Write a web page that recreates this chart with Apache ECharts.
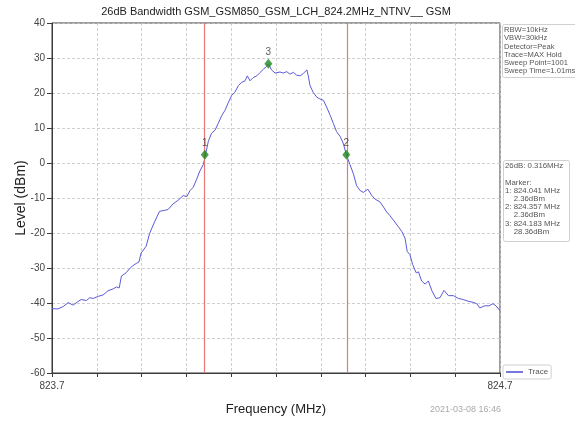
<!DOCTYPE html>
<html>
<head>
<meta charset="utf-8">
<script src="https://cdn.jsdelivr.net/npm/echarts@6/dist/echarts.min.js"></script>
<style>
  html, body { margin: 0; padding: 0; background: #fff; }
  #chart { width: 575px; height: 421px; }
</style>
</head>
<body>
<div id="chart"></div>
<script>
// Spectrum trace: frequency (MHz) and level (dBm)
const traceFreqs = [
  823.700, 823.713, 823.725, 823.736, 823.747, 823.758, 823.765, 823.777, 823.784, 823.792,
  823.803, 823.814, 823.825, 823.836, 823.844, 823.850, 823.855, 823.866, 823.873, 823.881,
  823.888, 823.894, 823.899, 823.910, 823.918, 823.929, 823.940, 823.952, 823.959, 823.970,
  823.981, 823.993, 824.001, 824.008, 824.015, 824.023, 824.030, 824.038, 824.042, 824.049,
  824.056, 824.064, 824.071, 824.079, 824.086, 824.094, 824.101, 824.108, 824.116, 824.123,
  824.131, 824.136, 824.142, 824.149, 824.157, 824.164, 824.172, 824.179, 824.183, 824.190,
  824.198, 824.209, 824.216, 824.224, 824.231, 824.239, 824.246, 824.254, 824.261, 824.269,
  824.272, 824.276, 824.283, 824.291, 824.298, 824.306, 824.313, 824.321, 824.328, 824.335,
  824.343, 824.350, 824.357, 824.365, 824.373, 824.380, 824.388, 824.395, 824.405, 824.414,
  824.421, 824.432, 824.440, 824.447, 824.454, 824.462, 824.466, 824.473, 824.481, 824.488,
  824.493, 824.499, 824.505, 824.513, 824.518, 824.525, 824.533, 824.540, 824.548, 824.557,
  824.566, 824.575, 824.585, 824.596, 824.607, 824.618, 824.629, 824.640, 824.648, 824.655,
  824.666, 824.676, 824.684, 824.691, 824.700
];
const traceLevels = [
  -41.6, -41.7, -41.0, -39.9, -40.6, -39.6, -39.0, -39.3, -38.5, -38.7,
  -38.1, -37.7, -36.5, -36.0, -35.4, -35.7, -32.3, -31.3, -30.2, -29.3,
  -28.7, -28.3, -25.7, -23.8, -20.1, -16.8, -13.8, -13.5, -13.3, -11.7,
  -10.7, -9.3, -9.6, -7.9, -7.0, -4.6, -2.3, -0.4, 2.0, 6.2,
  8.5, 9.4, 11.3, 13.6, 15.0, 17.4, 19.3, 20.2, 22.1, 23.0,
  23.5, 24.9, 23.5, 24.4, 24.9, 25.8, 26.8, 27.6, 28.36, 26.6,
  25.7, 26.0, 25.7, 26.1, 25.4, 25.9, 25.1, 24.9, 25.6, 26.6,
  24.9, 22.1, 20.2, 18.8, 18.3, 17.9, 16.0, 13.6, 11.3, 9.0,
  7.6, 5.7, 2.4, -0.4, -3.2, -6.5, -7.9, -8.4, -7.5, -9.3,
  -10.3, -11.1, -12.6, -14.0, -15.0, -16.3, -16.2, -18.2, -19.6, -21.5,
  -25.3, -26.2, -29.0, -31.4, -31.1, -33.7, -34.6, -33.7, -36.5, -38.7,
  -38.5, -36.4, -37.9, -37.9, -38.7, -39.0, -39.5, -39.8, -40.2, -41.4,
  -40.8, -40.8, -40.2, -40.8, -42.2
];

// Markers: 1 and 2 are the 26 dB edges, 3 is the peak
const markerNames = ['1', '2', '3'];
const markerFreqs = [824.041, 824.357, 824.183];
const markerLevels = [2.36, 2.36, 28.36];
const bandwidth26dB = 0.316;

// Axis ranges
const xMin = 823.7, xMax = 824.7, xStep = 0.1;
const yMin = -60, yMax = 40, yStep = 10;

// Instrument settings
const settingsLines = [
  'RBW=10kHz', 'VBW=30kHz', 'Detector=Peak', 'Trace=MAX Hold',
  'Sweep Point=1001', 'Sweep Time=1.01ms'
];

const titleText = '26dB Bandwidth GSM_GSM850_GSM_LCH_824.2MHz_NTNV__ GSM';
const timestamp = '2021-03-08 16:46';

const FONT = '"Liberation Sans", Arial, sans-serif';

const markerLines = ['26dB: ' + bandwidth26dB.toFixed(3) + 'MHz', '', 'Marker:'];
markerNames.forEach((n, i) => {
  markerLines.push(n + ': ' + markerFreqs[i].toFixed(3) + ' MHz');
  markerLines.push('    ' + markerLevels[i].toFixed(2) + 'dBm');
});

const chart = echarts.init(document.getElementById('chart'), null, { renderer: 'canvas' });

const near = (a, b) => Math.abs(a - b) < 1e-6;

chart.setOption({
  backgroundColor: '#ffffff',
  animation: false,
  textStyle: { fontFamily: FONT },
  grid: {
    left: 52, right: 75, top: 23, bottom: 43,
    show: true, borderColor: '#3a3a3a', borderWidth: 1, backgroundColor: 'transparent'
  },
  legend: {
    data: [{ name: 'Trace', icon: 'rect' }],
    left: 503, top: 365,
    itemWidth: 17, itemHeight: 1.5, itemGap: 3,
    padding: [3, 3, 3, 3],
    borderColor: '#d0d0d0', borderWidth: 1, borderRadius: 2,
    backgroundColor: '#fff',
    textStyle: { fontFamily: FONT, fontSize: 8, color: '#555' },
    selectedMode: false
  },
  xAxis: {
    type: 'value', min: xMin, max: xMax, interval: xStep,
    name: 'Frequency (MHz)', nameLocation: 'middle', nameGap: 30,
    nameMoveOverlap: false,
    nameTextStyle: { fontFamily: FONT, fontSize: 13, color: '#222' },
    axisLine: { show: true, onZero: false, lineStyle: { color: '#3a3a3a', width: 1 } },
    axisTick: { show: true, inside: false, length: 4, lineStyle: { color: '#3a3a3a' } },
    axisLabel: {
      show: true, margin: 8, fontSize: 10, color: '#444', fontFamily: FONT,
      showMinLabel: true, showMaxLabel: true,
      formatter: v => (near(v, xMin) || near(v, xMax)) ? v.toFixed(1) : ''
    },
    splitLine: { show: true, lineStyle: { color: '#c4c4c4', type: [3, 2], width: 0.8 } }
  },
  yAxis: {
    type: 'value', min: yMin, max: yMax, interval: yStep,
    name: 'Level (dBm)', nameLocation: 'middle', nameGap: 24, nameRotate: 90,
    nameMoveOverlap: false,
    nameTextStyle: { fontFamily: FONT, fontSize: 14, color: '#222' },
    axisLine: { show: true, onZero: false, lineStyle: { color: '#3a3a3a', width: 1 } },
    axisTick: { show: true, inside: false, length: 5, lineStyle: { color: '#3a3a3a' } },
    axisLabel: { margin: 7, fontSize: 10, color: '#444', fontFamily: FONT },
    splitLine: { show: true, lineStyle: { color: '#c4c4c4', type: [3, 2], width: 0.8 } }
  },
  series: [
    {
      name: 'Trace', type: 'line',
      data: traceFreqs.map((f, i) => [f, traceLevels[i]]),
      showSymbol: false, symbol: 'none',
      lineStyle: { color: '#5a5ad8', width: 1 },
      itemStyle: { color: '#4a4ad0' },
      z: 3,
      markLine: {
        silent: true, symbol: 'none',
        label: { show: false },
        lineStyle: { color: '#e47878', width: 1.2, type: 'solid' },
        data: [{ xAxis: markerFreqs[0] }, { xAxis: markerFreqs[1] }]
      }
    },
    {
      name: 'Markers', type: 'scatter',
      data: markerFreqs.map((f, i) => ({ value: [f, markerLevels[i]], name: markerNames[i] })),
      symbol: 'diamond', symbolSize: [8, 10],
      itemStyle: { color: '#1e8a1e' },
      label: {
        show: true, position: 'top', distance: 1,
        formatter: p => p.name,
        fontFamily: FONT, fontSize: 10, color: '#333'
      },
      z: 5
    }
  ],
  graphic: [
    {
      type: 'text', x: 276, y: 6, z: 11,
      style: {
        text: titleText, font: '11px ' + FONT, fill: '#222',
        textAlign: 'center', textVerticalAlign: 'top'
      }
    },
    {
      type: 'rect', left: 502, top: 24, z: 10,
      shape: { width: 80, height: 53, r: 2 },
      style: { fill: '#fff', stroke: '#d0d0d0', lineWidth: 1 }
    },
    {
      type: 'text', left: 504, top: 26, z: 11,
      style: {
        text: settingsLines.join('\n'),
        font: '7.6px ' + FONT, fill: '#555', lineHeight: 8.2
      }
    },
    {
      type: 'rect', left: 503, top: 160, z: 10,
      shape: { width: 66, height: 81, r: 2 },
      style: { fill: '#fff', stroke: '#d0d0d0', lineWidth: 1 }
    },
    {
      type: 'text', left: 505, top: 162, z: 11,
      style: {
        text: markerLines.join('\n'),
        font: '7.8px ' + FONT, fill: '#555', lineHeight: 8.2
      }
    },
    {
      type: 'text', right: 74, top: 405, z: 11,
      style: { text: timestamp, font: '9px ' + FONT, fill: '#aaa' }
    }
  ]
});
</script>
</body>
</html>
